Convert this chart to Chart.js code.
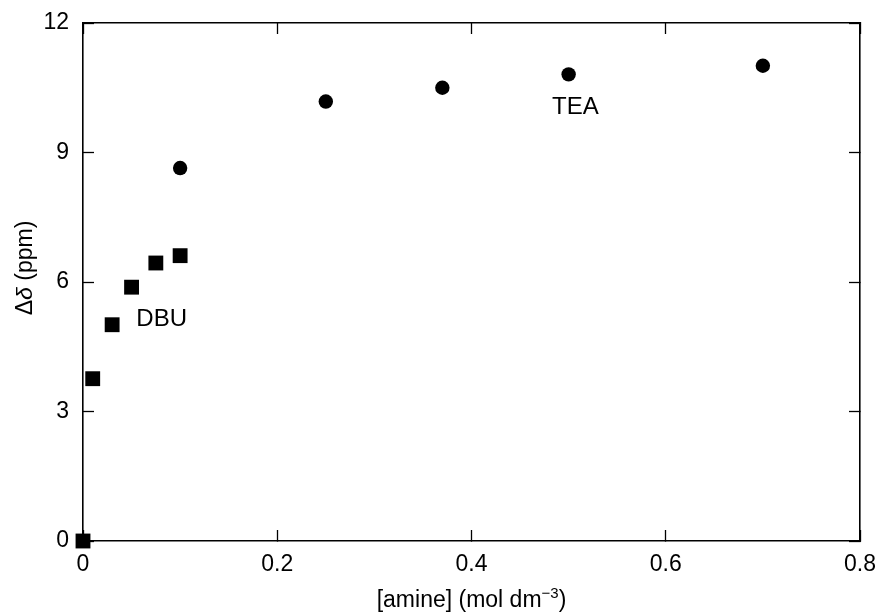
<!DOCTYPE html>
<html>
<head>
<meta charset="UTF-8">
<title>Δδ vs [amine]</title>
<style>
  body { margin: 0; background: #fff; }
  #wrap { width: 880px; height: 616px; }
</style>
</head>
<body>
<div id="wrap"><canvas id="chart" width="880" height="616"></canvas></div>
<script src="https://cdn.jsdelivr.net/npm/chart.js"></script>
<script>
// data
const dbuConc = [0, 0.01, 0.03, 0.05, 0.075, 0.1];
const dbuShift = [0, 3.76, 5.01, 5.88, 6.44, 6.61];
const teaConc = [0.1, 0.25, 0.37, 0.5, 0.7];
const teaShift = [8.64, 10.18, 10.5, 10.81, 11.01];
const xTicks = [0, 0.2, 0.4, 0.6, 0.8];
const yTicks = [0, 3, 6, 9, 12];
// label anchors in data units
const seriesLabels = [
  { text: 'DBU', x: 0.081, y: 5.13 },
  { text: 'TEA', x: 0.507, y: 10.05 }
];

const FONT = '"Liberation Sans", Arial, sans-serif';
const toPts = (xs, ys) => xs.map((x, i) => ({ x: x, y: ys[i] }));

// draw a run of [text, font, dy] pieces left to right, starting at x
function drawRuns(ctx, runs, x, y) {
  runs.forEach(r => {
    ctx.font = r[1];
    ctx.fillText(r[0], x, y + (r[2] || 0));
    x += ctx.measureText(r[0]).width;
  });
}
function runsWidth(ctx, runs) {
  let w = 0;
  runs.forEach(r => { ctx.font = r[1]; w += ctx.measureText(r[0]).width; });
  return w;
}

// series labels and the two axis titles (italic delta, superscript -3)
const textPlugin = {
  id: 'texts',
  afterDatasetsDraw(chart) {
    const ctx = chart.ctx;
    const xs = chart.scales.x, ys = chart.scales.y;
    const area = chart.chartArea;
    ctx.save();
    ctx.fillStyle = '#000';
    ctx.font = '24px ' + FONT;
    ctx.textAlign = 'center';
    ctx.textBaseline = 'middle';
    seriesLabels.forEach(l => {
      ctx.fillText(l.text, xs.getPixelForValue(l.x), ys.getPixelForValue(l.y));
    });

    ctx.textAlign = 'left';
    ctx.textBaseline = 'alphabetic';
    const f = '23px ' + FONT;
    const xRuns = [['[amine] (mol dm', f], ['\u22123', '15px ' + FONT, -9], [')', f]];
    const xw = runsWidth(ctx, xRuns);
    drawRuns(ctx, xRuns, (area.left + area.right) / 2 - xw / 2, area.bottom + 66);

    const yRuns = [['\u0394', f], ['\u03b4', 'italic ' + f], [' (ppm)', f]];
    const yw = runsWidth(ctx, yRuns);
    ctx.translate(area.left - 51, (area.top + area.bottom) / 2 - 14);
    ctx.rotate(-Math.PI / 2);
    drawRuns(ctx, yRuns, -yw / 2, 0);
    ctx.restore();
  }
};

const tickGrid = {
  drawOnChartArea: false,
  drawTicks: true,
  tickLength: -11,
  tickWidth: 1.3,
  tickColor: '#000'
};
const border = { display: true, color: '#000', width: 1.6 };
const tickFont = { family: FONT, size: 23 };

new Chart(document.getElementById('chart'), {
  type: 'scatter',
  data: {
    datasets: [
      {
        label: 'DBU',
        data: toPts(dbuConc, dbuShift),
        pointStyle: 'rect',
        pointRadius: 10.5,
        backgroundColor: '#000',
        borderColor: '#000',
        borderWidth: 0,
        clip: false
      },
      {
        label: 'TEA',
        data: toPts(teaConc, teaShift),
        pointStyle: 'circle',
        pointRadius: 7.2,
        backgroundColor: '#000',
        borderColor: '#000',
        borderWidth: 0,
        clip: false
      }
    ]
  },
  options: {
    responsive: false,
    animation: false,
    layout: { padding: 0 },
    plugins: {
      legend: { display: false },
      tooltip: { enabled: false }
    },
    scales: {
      x: {
        type: 'linear',
        position: 'bottom',
        min: 0, max: 0.8,
        afterBuildTicks: s => { s.ticks = xTicks.map(v => ({ value: v })); },
        afterFit: s => { s.height = 75; s.paddingLeft = 0; s.paddingRight = 0; },
        grid: tickGrid,
        border: border,
        ticks: {
          padding: 21,
          color: '#000',
          font: tickFont,
          maxRotation: 0,
          callback: v => String(v)
        }
      },
      y: {
        type: 'linear',
        position: 'left',
        min: 0, max: 12,
        afterBuildTicks: s => { s.ticks = yTicks.map(v => ({ value: v })); },
        afterFit: s => { s.width = 83; s.paddingTop = 0; s.paddingBottom = 0; },
        grid: tickGrid,
        border: border,
        ticks: {
          padding: 25,
          color: '#000',
          font: tickFont
        }
      },
      x2: {
        type: 'linear',
        position: 'top',
        min: 0, max: 0.8,
        afterBuildTicks: s => { s.ticks = xTicks.map(v => ({ value: v })); },
        afterFit: s => { s.height = 23; s.paddingLeft = 0; s.paddingRight = 0; },
        grid: tickGrid,
        border: border,
        ticks: { display: false }
      },
      y2: {
        type: 'linear',
        position: 'right',
        min: 0, max: 12,
        afterBuildTicks: s => { s.ticks = yTicks.map(v => ({ value: v })); },
        afterFit: s => { s.width = 20; s.paddingTop = 0; s.paddingBottom = 0; },
        grid: tickGrid,
        border: border,
        ticks: { display: false }
      }
    }
  },
  plugins: [textPlugin]
});
</script>
</body>
</html>
